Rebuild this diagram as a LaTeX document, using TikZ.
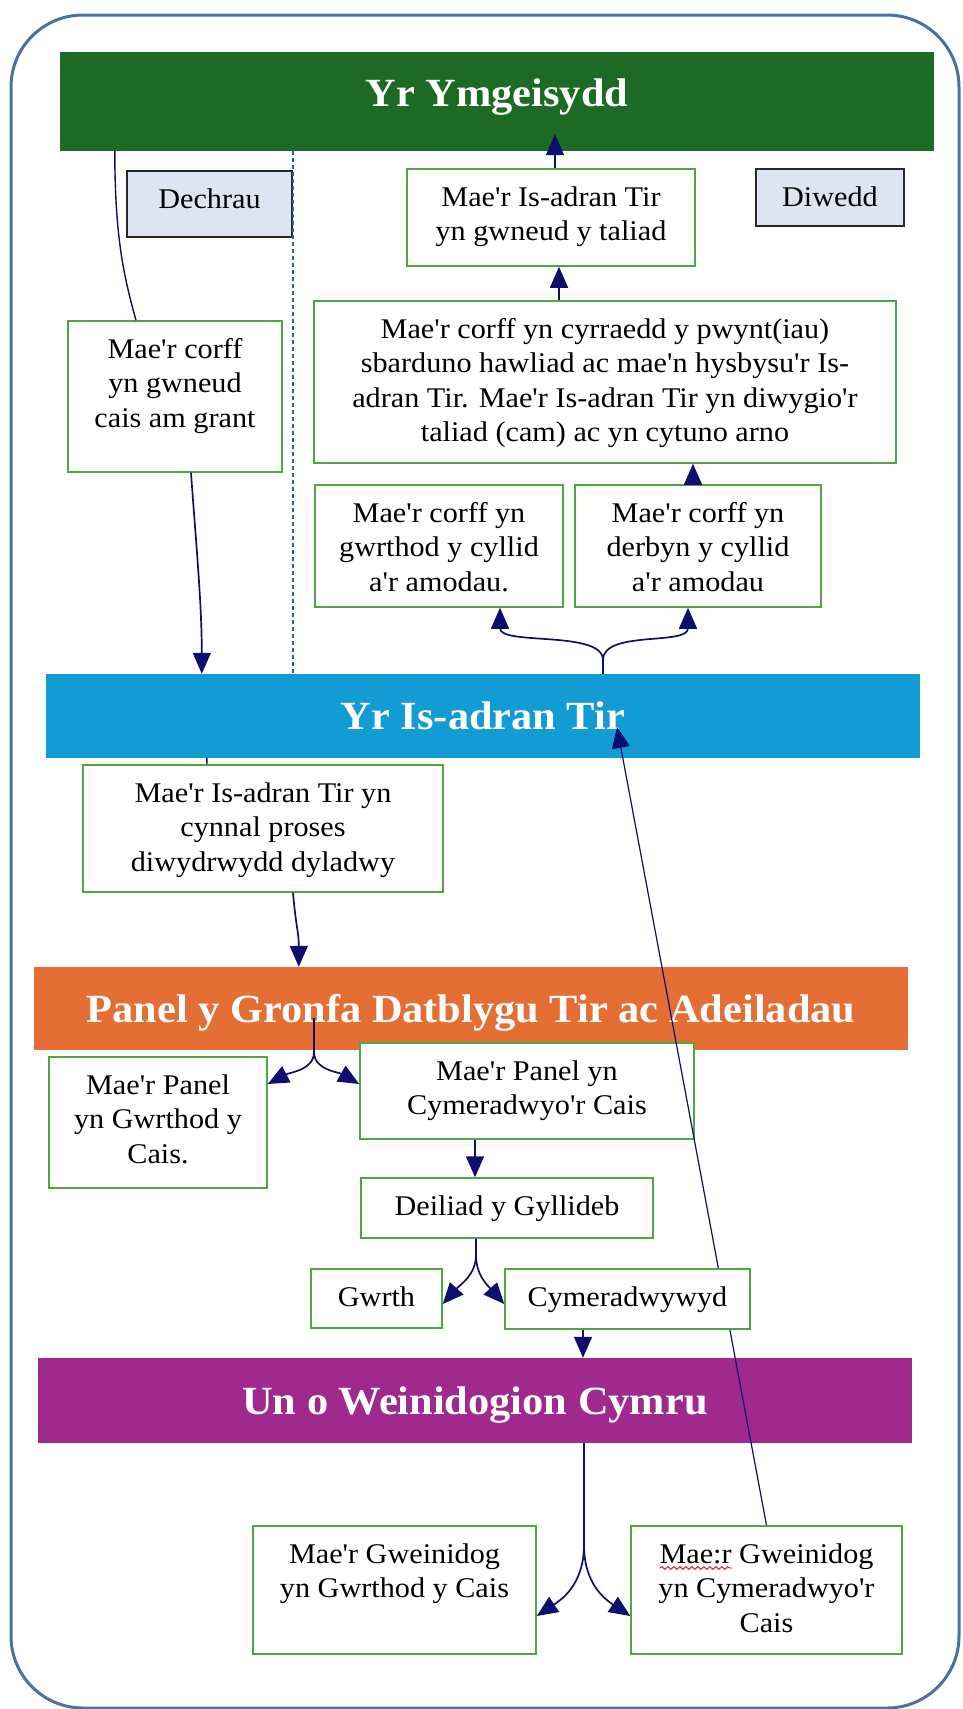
\documentclass[tikz,border=0pt]{standalone}
\usepackage{fontspec}
\setmainfont{Liberation Serif}[FakeStretch=1.06, Ligatures=TeXOff]
\usepackage{xcolor}
\usetikzlibrary{arrows.meta,decorations.pathmorphing}

\definecolor{ymgreen}{RGB}{29,106,36}
\definecolor{tirblue}{RGB}{19,155,211}
\definecolor{panelorange}{RGB}{228,110,52}
\definecolor{weinpurple}{RGB}{159,41,140}
\definecolor{boxgreen}{RGB}{76,168,64}
\definecolor{tagfill}{RGB}{220,230,242}
\definecolor{tagline}{RGB}{40,40,40}
\definecolor{navy}{RGB}{14,14,110}
\definecolor{frameblue}{RGB}{72,114,164}
\definecolor{dashblue}{RGB}{40,95,200}

\pgfdeclarelayer{barlayer}
\pgfdeclarelayer{linelayer}
\pgfsetlayers{barlayer,linelayer,main}

\newcommand{\celltext}[3]{\parbox[c][#2][t]{#1}{\centering\rule{0pt}{37pt}#3}}

\begin{document}
\begin{tikzpicture}[x=1pt, y=-1pt, font=\fontsize{28.5}{34.5}\selectfont]
\tikzstyle{bar}=[inner sep=0pt, minimum width=874pt, text=white, font=\fontsize{40}{44}\selectfont\bfseries, text height=27pt, text depth=0pt]
\tikzstyle{gbox}=[draw=boxgreen, line width=1.5pt, fill=white, inner sep=0pt]
\tikzstyle{tag}=[draw=tagline, line width=1.8pt, fill=tagfill, inner sep=0pt]
\tikzstyle{arr}=[draw=navy, line width=1.7pt, -{Triangle[length=21pt, width=18pt]}]
\tikzstyle{ln}=[draw=navy, line width=1.4pt]
\tikzstyle{dashln}=[draw=dashblue, line width=1.4pt, dash pattern=on 4pt off 3pt]

\useasboundingbox (0,0) rectangle (962,1709);

% frame and the four bars
\begin{pgfonlayer}{barlayer}
\draw[frameblue, line width=3pt, rounded corners=72pt] (11,15) rectangle (959,1708);
\node[bar, fill=ymgreen, minimum height=99pt, text depth=18pt] (ymgeisydd) at (497,101.5) {Yr Ymgeisydd};
\node[bar, fill=tirblue, minimum height=84pt] (isadran) at (483,716) {Yr Is-adran Tir};
\node[bar, fill=panelorange, minimum height=83pt] (panel) at (471,1008.5) {Panel y Gronfa Datblygu Tir ac Adeiladau};
\node[bar, fill=weinpurple, minimum height=85pt] (gweinidog) at (475,1400.5) {Un o Weinidogion Cymru};
% the long line runs over this one
\node[gbox] (pcymer) at (527,1091) {\celltext{334pt}{96pt}{Mae'r Panel yn\\Cymeradwyo'r Cais}};
\end{pgfonlayer}

% boxes
\node[tag] (dechrau) at (209.5,204) {\celltext{165pt}{66pt}{Dechrau}};
\node[tag] (diwedd) at (830,197.5) {\celltext{148pt}{57pt}{Diwedd}};
\node[gbox] (taliad) at (551,217.5) {\celltext{288pt}{97pt}{Mae'r Is-adran Tir\\yn gwneud y taliad}};
\node[gbox] (hawliad) at (605,382) {\celltext{582pt}{162pt}{Mae'r corff yn cyrraedd y pwynt(iau)\\sbarduno hawliad ac mae'n hysbysu'r Is-\\adran Tir. Mae'r Is-adran Tir yn diwygio'r\\taliad (cam) ac yn cytuno arno}};
\node[gbox] (gwrthod) at (439,546) {\celltext{248pt}{122pt}{Mae'r corff yn\\gwrthod y cyllid\\a'r amodau.}};
\node[gbox] (derbyn) at (698,546) {\celltext{246pt}{122pt}{Mae'r corff yn\\derbyn y cyllid\\a'r amodau}};
\node[gbox] (cais) at (175,396.5) {\celltext{214pt}{151pt}{Mae'r corff\\yn gwneud\\cais am grant}};
\node[gbox] (diwydrwydd) at (263,828.5) {\celltext{360pt}{127pt}{Mae'r Is-adran Tir yn\\cynnal proses\\diwydrwydd dyladwy}};
\node[gbox] (pgwrthod) at (158,1122.5) {\celltext{218pt}{131pt}{Mae'r Panel\\yn Gwrthod y\\Cais.}};
\node[gbox] (deiliad) at (507,1208) {\celltext{292pt}{60pt}{Deiliad y Gyllideb}};
\node[gbox] (gwrth) at (376.5,1298.5) {\celltext{131pt}{59pt}{Gwrth}};
\node[gbox] (cymer) at (627.5,1299) {\celltext{245pt}{60pt}{Cymeradwywyd}};
\node[gbox] (wgwrthod) at (394.5,1590) {\celltext{283pt}{128pt}{Mae'r Gweinidog\\yn Gwrthod y Cais}};
\node[gbox] (wcymer) at (766.5,1590) {\celltext{271pt}{128pt}{Mae:r Gweinidog\\yn Cymeradwyo'r\\Cais}};
\draw[red, line width=0.9pt, decorate, decoration={snake, amplitude=1.3pt, segment length=6pt}] (660,1568) -- (732,1568);

% the long line back up to the Is-adran
\coordinate (ltip) at (617,727);
\begin{pgfonlayer}{linelayer}
\draw[arr, line width=1.2pt] (wcymer.north) -- (ltip);
\end{pgfonlayer}

\draw[dashln] (293,0 |- ymgeisydd.south) -- (293,0 |- isadran.north);

% applicant side
\draw[ln] ([xshift=55pt]ymgeisydd.south west) .. controls +(0,90) and +(-11,-40) .. ([xshift=-39pt]cais.north);
\draw[arr] ([xshift=16pt]cais.south) .. controls +(5,70) and +(0,-70) .. ([xshift=156pt]isadran.north west);
\draw[ln] ([xshift=161pt]isadran.south west) -- (207,0 |- diwydrwydd.north);
\draw[arr] ([xshift=30pt]diwydrwydd.south) .. controls +(3,35) and +(0,-35) .. ([xshift=265pt]panel.north west);

% payment side
\draw[arr] (555,0 |- taliad.north) -- ([yshift=17pt]555,0 |- ymgeisydd.south);
\draw[arr] (559,0 |- hawliad.north) -- (559,0 |- taliad.south);
\draw[arr] (693,0 |- derbyn.north) -- (693,0 |- hawliad.south);
\coordinate (ifork) at (603,0 |- isadran.north);
\draw[arr] (ifork) -- (603,660) .. controls +(0,-30) and +(0,38) .. (500,0 |- gwrthod.south);
\draw[arr] (ifork) -- (603,660) .. controls +(0,-30) and +(0,38) .. (688,0 |- derbyn.south);

% panel
\coordinate (pfork) at (314,1018);
\draw[arr] (pfork) -- (314,1052) .. controls +(0,18) and +(23,-12) .. (pgwrthod.east |- 0,1084);
\draw[arr] (pfork) -- (314,1052) .. controls +(0,18) and +(-21,-12) .. (pcymer.west |- 0,1084);
\draw[arr] (475,0 |- pcymer.south) -- (475,0 |- deiliad.north);
\draw[arr] (476,0 |- deiliad.south) -- (476,1255) .. controls +(0,20) and +(17,-19) .. (gwrth.east |- 0,1304);
\draw[arr] (476,0 |- deiliad.south) -- (476,1255) .. controls +(0,20) and +(-17,-19) .. (cymer.west |- 0,1304);
\draw[arr] (583,0 |- cymer.south) -- (583,0 |- gweinidog.north);

% minister
\draw[arr] (584,0 |- gweinidog.south) -- (584,1545) .. controls +(0,40) and +(24,-16) .. (wgwrthod.east |- 0,1616);
\draw[arr] (584,0 |- gweinidog.south) -- (584,1545) .. controls +(0,40) and +(-24,-16) .. (wcymer.west |- 0,1616);
\end{tikzpicture}
\end{document}
